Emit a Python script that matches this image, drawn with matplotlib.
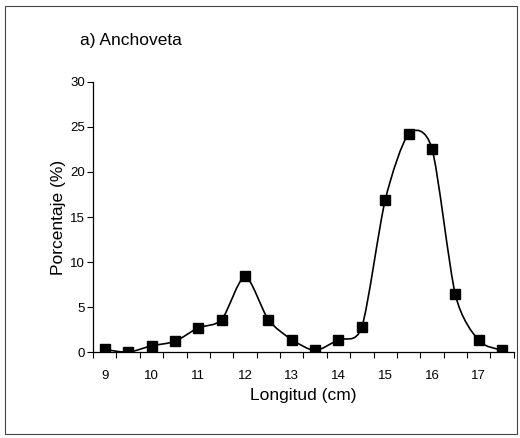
import numpy as np
import matplotlib.pyplot as plt
from matplotlib.path import Path
from matplotlib.patches import PathPatch, Rectangle

plt.rcParams['font.family'] = ['Liberation Sans', 'DejaVu Sans']

# longitud (cm) y porcentaje (%)
longitud = [9, 9.5, 10, 10.5, 11, 11.5, 12, 12.5, 13, 13.5,
            14, 14.5, 15, 15.5, 16, 16.5, 17, 17.5]
porcentaje = [0.3, 0.0, 0.7, 1.2, 2.7, 3.6, 8.4, 3.6, 1.4, 0.2,
              1.4, 2.8, 16.9, 24.2, 22.6, 6.4, 1.3, 0.2]
xticks = [9, 10, 11, 12, 13, 14, 15, 16, 17]
yticks = [0, 5, 10, 15, 20, 25, 30]


def smooth_path(x, y, k=0.13):
    # bezier through the points, like the excel smoothed line
    pts = np.column_stack([x, y])
    n = len(pts)
    verts = [pts[0]]
    codes = [Path.MOVETO]
    for i in range(n - 1):
        p0 = pts[max(i - 1, 0)]
        p1 = pts[i]
        p2 = pts[i + 1]
        p3 = pts[min(i + 2, n - 1)]
        c1 = p1 + (p2 - p0) * k
        c2 = p2 - (p3 - p1) * k
        verts += [c1, c2, p2]
        codes += [Path.CURVE4] * 3
    return Path(verts, codes)


fig = plt.figure(figsize=(5.2, 4.38), dpi=100)
ax = fig.add_axes([0.179, 0.196, 0.809, 0.617])

ax.add_patch(PathPatch(smooth_path(longitud, porcentaje), fill=False,
                       edgecolor='black', lw=1.2))
ax.plot(longitud, porcentaje, 's', color='black', ms=6.5, mec='black')

ax.set_xlim(8.75, 17.75)
ax.set_ylim(0, 30)
ax.set_xticks(xticks)
ax.set_xticks(np.arange(8.75, 17.8, 0.5), minor=True)
ax.set_yticks(yticks)
ax.tick_params(axis='x', which='major', length=0, labelsize=9.5, pad=13)
ax.tick_params(axis='x', which='minor', length=4, direction='out', width=0.8)
ax.tick_params(axis='y', length=4, direction='out', width=0.8, labelsize=9.5, pad=2)

for s in ['top', 'right']:
    ax.spines[s].set_visible(False)
ax.spines['left'].set_linewidth(0.9)
ax.spines['bottom'].set_linewidth(0.9)

ax.set_xlabel('Longitud (cm)', fontsize=12.5, labelpad=4)
ax.set_ylabel('Porcentaje (%)', fontsize=12.5, labelpad=3)
fig.text(0.154, 0.907, 'a) Anchoveta', fontsize=12.5, va='center')

fig.patches.append(Rectangle((0.009, 0.009), 0.985, 0.978, transform=fig.transFigure,
                             fill=False, edgecolor='#444444', lw=0.8))

fig.savefig('out.png', dpi=100)
